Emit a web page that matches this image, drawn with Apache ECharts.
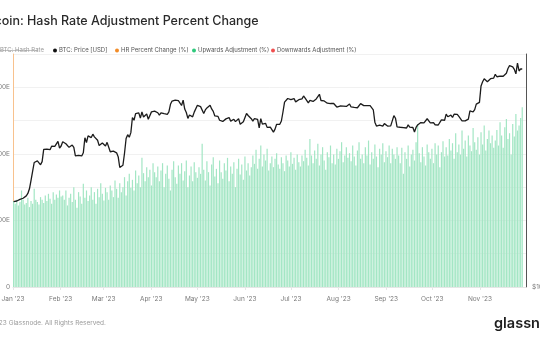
<!DOCTYPE html>
<html>
<head>
<meta charset="utf-8">
<script src="https://cdn.jsdelivr.net/npm/echarts@6/dist/echarts.min.js"></script>
<style>
html,body{margin:0;padding:0;background:#fff;}
#chart{width:540px;height:340px;}
</style>
</head>
<body>
<div id="chart"></div>
<script>
// ---- data ----
const startDate = '2023-01-01';
// BTC price (USD), daily, Jan 1 – Nov 18 2023
const priceJan = [16625,16688,16680,16863,16836,16951,16955,17091,17196,17446,17934,18869,19909,20976,20880,21169,21161,20688,21086,22676,22777,22720,22934,22636,23117,23032,23078,23031,23774,22840,23139];
const priceFeb = [23723,23471,23449,23331,22955,22760,23264,22939,21819,21651,21870,21788,21808,22220,24307,23623,24565,24641,24327,24829,24436,24188,23947,23198,23175,23554,23492,23147];
const priceMar = [23646,23475,22362,22354,22435,22429,22219,21718,20363,20187,20633,22163,24197,24746,24375,25052,27423,26966,28038,27767,28175,27307,28333,27493,27494,27994,27139,27268,28348,28033,28478];
const priceApr = [28411,28199,27790,28168,28175,28044,27925,27947,28333,29653,30235,29892,30399,30485,30318,30315,29445,30397,28823,28245,27276,27817,27591,27525,28307,28422,29473,29340,29248,29268];
const priceMay = [28091,28680,29026,28838,29506,28848,28430,27668,27628,27599,26969,26805,26784,26931,27192,27037,27399,26832,26890,27130,26753,26851,27226,26334,26476,26719,26868,28085,27745,27702,27220];
const priceJun = [26819,27249,27075,27119,25760,27238,26346,26508,26480,25851,25940,25902,25919,25124,25576,26327,26510,26336,26851,28327,30027,29912,30695,30548,30480,30271,30689,30086,30445,30477];
const priceJul = [30590,30620,31156,30777,30514,29909,30346,30292,30171,30414,30620,30391,31476,30334,30295,30249,30145,29856,29913,29792,29908,29800,30083,29176,29228,29354,29210,29319,29357,29275,29230];
const priceAug = [29705,29186,29193,29113,29088,29055,29178,29766,29563,29424,29398,29415,29283,29408,29170,28701,26664,26049,26096,26189,26124,26040,26432,26163,26049,26009,26090,26106,27727,27297,25931];
const priceSep = [25800,25869,25970,25813,25780,25753,26240,25905,25895,25833,25162,25840,26228,26539,26608,26568,26535,26754,27211,27132,26567,26580,26579,26256,26298,26217,26352,27021,26911,26967];
const priceOct = [27983,27530,27429,27799,27415,27946,27968,27936,27583,27391,26873,26756,26862,26861,27159,28519,28415,28328,28719,29682,29919,29993,33086,33901,34502,34156,33909,34089,34538,34502,34667];
const priceNov = [35437,34938,34732,35082,35049,35037,35443,35655,36693,37313,37138,37054,36502,35537,37880,36154,36596,36585];

// Hash rate (EH/s), daily, Jan 1 – Nov 18 2023
const hashJan = [258,250,262,245,255,290,262,248,252,268,240,258,250,295,262,255,248,270,262,252,275,258,280,265,250,285,262,278,268,290,272];
const hashFeb = [275,262,290,245,268,280,255,300,262,238,285,272,250,310,268,290,258,275,300,262,285,250,295,270,312,280,260,298];
const hashMar = [285,262,305,290,270,320,295,268,312,285,300,330,275,318,340,298,322,290,350,312,335,300,388,342,318,360,330,352,305,372,345];
const hashApr = [330,362,318,350,372,300,340,365,325,290,352,378,330,310,365,340,372,320,348,380,300,335,362,318,375,345,328,360,340,430];
const hashMay = [352,320,378,345,305,368,390,332,355,312,380,345,325,372,350,388,318,362,340,375,300,355,385,338,368,322,392,350,372,335,360];
const hashJun = [395,370,412,355,385,425,362,398,380,415,350,372,392,360,385,402,368,355,390,372,348,395,380,362,405,370,388,352,398,375];
const hashJul = [362,395,378,412,388,365,445,395,372,410,385,430,365,398,420,380,352,405,390,425,372,398,368,415,385,408,435,375,395,420,388];
const hashAug = [402,378,425,392,365,410,435,385,398,372,420,395,440,368,405,385,428,392,360,415,398,432,375,408,390,425,372,415,398,385,420];
const hashSep = [395,372,418,340,405,385,425,362,398,412,380,435,490,402,375,420,392,365,428,405,385,415,372,432,398,425,360,405,438,392];
const hashOct = [420,395,445,410,432,385,462,405,428,398,470,415,440,392,455,425,408,478,435,412,450,398,465,428,485,410,445,470,432,455,418];
const hashNov = [440,472,425,495,455,418,480,505,445,462,398,490,452,520,470,485,508,540];

// axis ticks / labels
const monthTicks = ['2023-01-01','2023-02-01','2023-03-01','2023-04-01','2023-05-01','2023-06-01','2023-07-01','2023-08-01','2023-09-01','2023-10-01','2023-11-01'];
const monthLabels = ["Jan '23","Feb '23","Mar '23","Apr '23","May '23","Jun '23","Jul '23","Aug '23","Sep '23","Oct '23","Nov '23"];
const leftTicks = [0,200,400,600];
const leftLabels = ['0','200E','400E','600E'];
const rightTicks = [10000];
const rightLabels = ['$10k'];
const legendNames = ['BTC: Price [USD]','HR Percent Change (%)','Upwards Adjustment (%)','Downwards Adjustment (%)'];
const legendColors = ['#111111','#f28c28','#2fc97c','#f04f4f'];

// ---- build ----
const price = [].concat(priceJan,priceFeb,priceMar,priceApr,priceMay,priceJun,priceJul,priceAug,priceSep,priceOct,priceNov);
const hash = [].concat(hashJan,hashFeb,hashMar,hashApr,hashMay,hashJun,hashJul,hashAug,hashSep,hashOct,hashNov);
const DAY = 86400000;
const t0 = Date.parse(startDate + 'T00:00:00Z');
const priceData = price.map((v,i)=>[t0+i*DAY, v]);
const hashData = hash.map((v,i)=>[t0+i*DAY, v]);
const tickTs = monthTicks.map(d=>Date.parse(d+'T00:00:00Z'));

const FONT = 'Inter, "Noto Sans", sans-serif';
const chart = echarts.init(document.getElementById('chart'), null, {renderer:'canvas'});

const legendX = [59,121,198,277];
const graphics = [
  {type:'text', left:-21, top:15, style:{text:'Bitcoin: Hash Rate Adjustment Percent Change', font:'500 12.5px '+FONT, fill:'#2a2a2a'}},
  {type:'text', left:0, top:47, style:{text:'BTC: Hash Rate', font:'6px '+FONT, fill:'#9a9a9a'}},
  {type:'line', shape:{x1:0,y1:50.5,x2:38,y2:50.5}, style:{stroke:'#9a9a9a', lineWidth:0.6}},
  {type:'text', left:-17, top:320, style:{text:'© 2023 Glassnode. All Rights Reserved.', font:'6.5px '+FONT, fill:'#9a9a9a'}},
  {type:'text', left:494, top:316, style:{text:'glassnode', font:'600 14.5px '+FONT, fill:'#1e1e1e'}}
];
legendNames.forEach((n,i)=>{
  graphics.push({type:'circle', shape:{cx:legendX[i]-4, cy:50.5, r:2}, style:{fill:legendColors[i]}});
  graphics.push({type:'text', left:legendX[i], top:47, style:{text:n, font:'6px '+FONT, fill:'#555'}});
});

const option = {
  animation:false,
  useUTC:true,
  backgroundColor:'#fff',
  graphic: graphics,
  grid:{left:13, right:14, top:54, bottom:53, containLabel:false, outerBoundsMode:'none'},
  xAxis:[
    {type:'time', position:'top', min:t0, max:t0+323*DAY, show:false},
    {type:'value', position:'bottom', min:t0, max:Date.parse('2023-12-01T00:00:00Z'),
     axisLine:{show:true, lineStyle:{color:'#e6e6e6'}},
     axisTick:{show:true, length:3, lineStyle:{color:'#e6e6e6'}, customValues:tickTs},
     axisLabel:{customValues:tickTs, fontSize:6.5, fontFamily:FONT, color:'#7a7a7a', margin:9,
       formatter:(v)=>{const k=tickTs.indexOf(v); return k>=0?monthLabels[k]:'';}},
     splitLine:{show:false}}
  ],
  yAxis:[
    {type:'value', min:0, max:700, interval:100, position:'left',
     axisLine:{show:true, lineStyle:{color:'#f8c28e', width:1}},
     axisTick:{show:false},
     axisLabel:{fontSize:6.5, fontFamily:FONT, color:'#7a7a7a', margin:3,
       formatter:(v)=>{const k=leftTicks.indexOf(v); return k>=0?leftLabels[k]:'';}},
     splitLine:{show:true, lineStyle:{color:'#f1f1f1', width:1}}},
    {type:'log', logBase:10, min:10000, max:40000, position:'right',
     axisLine:{show:true, lineStyle:{color:'#555', width:1}},
     axisTick:{show:false},
     axisLabel:{fontSize:6.5, fontFamily:FONT, color:'#7a7a7a', margin:6,
       formatter:(v)=>{const k=rightTicks.findIndex(t=>Math.abs(t-v)<1); return k>=0?rightLabels[k]:'';}},
     splitLine:{show:false}}
  ],
  series:[
    {type:'bar', name:'BTC: Hash Rate', xAxisIndex:0, yAxisIndex:0, data:hashData,
     barWidth:1.2, itemStyle:{color:'#a3e6c4'}, silent:true},
    {type:'line', name:'BTC: Price [USD]', xAxisIndex:0, yAxisIndex:1, data:priceData,
     showSymbol:false, lineStyle:{color:'#1c1c1c', width:1.3}, z:5, silent:true}
  ]
};
chart.setOption(option);
</script>
</body>
</html>
